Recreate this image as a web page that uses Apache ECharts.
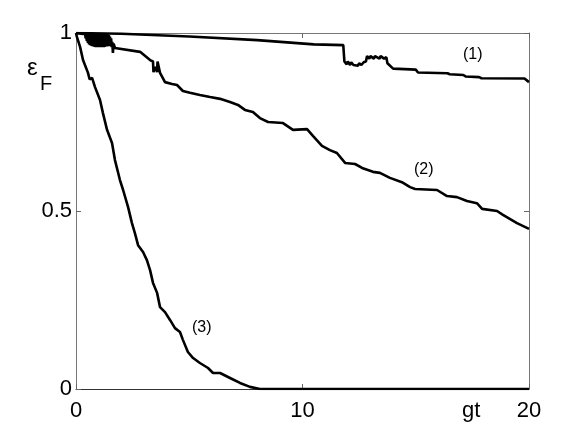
<!DOCTYPE html>
<html><head><meta charset="utf-8">
<script src="https://cdn.jsdelivr.net/npm/echarts@6/dist/echarts.min.js"></script>
<style>html,body{margin:0;padding:0;background:#fff}#c{width:584px;height:439px}</style>
</head><body><div id="c"></div>
<script>
// x ticks and y ticks
var xTicks = [0, 10, 20];
var yTicks = [0, 0.5, 1];
var curveLabels = ['(1)', '(2)', '(3)'];

// Curve (1)
var t1 = [0, 2, 5, 8, 10.5, 11.8, 11.85, 11.95, 12.0, 12.1, 12.15, 12.25, 12.3, 12.45, 12.5, 12.6, 12.7, 12.8, 12.85, 12.95, 13.0, 13.15, 13.2, 13.4, 13.45, 13.6, 13.7, 13.75, 14.0, 15.0, 15.1, 16.4, 16.5, 17.1, 17.2, 17.8, 17.9, 19.8, 20];
var v1 = [1.0, 0.998, 0.99, 0.98, 0.968, 0.966, 0.92, 0.912, 0.92, 0.91, 0.918, 0.91, 0.915, 0.908, 0.915, 0.91, 0.918, 0.92, 0.935, 0.928, 0.935, 0.928, 0.935, 0.928, 0.935, 0.928, 0.932, 0.915, 0.9, 0.897, 0.889, 0.887, 0.884, 0.882, 0.878, 0.876, 0.873, 0.872, 0.862];

// Curve (2)
var t2 = [0, 0.3, 0.4, 0.425, 0.45, 0.475, 0.5, 0.525, 0.55, 0.575, 0.6, 0.625, 0.65, 0.675, 0.7, 0.725, 0.75, 0.775, 0.8, 0.825, 0.85, 0.875, 0.9, 0.925, 0.95, 0.975, 1.0, 1.025, 1.05, 1.075, 1.1, 1.125, 1.15, 1.175, 1.2, 1.225, 1.25, 1.275, 1.3, 1.325, 1.35, 1.375, 1.4, 1.425, 1.45, 1.475, 1.5, 1.525, 1.55, 1.575, 1.6, 1.63, 1.66, 1.72, 2.83, 3.27, 3.4, 3.42, 3.5, 3.58, 3.6, 3.71, 3.93, 4.24, 4.46, 4.72, 5.03, 5.47, 5.92, 6.36, 6.8, 7.15, 7.46, 7.81, 8.12, 8.48, 9.14, 9.58, 10.2, 10.46, 10.86, 11.21, 11.52, 11.88, 12.32, 12.63, 13.11, 13.42, 13.86, 14.39, 14.75, 14.97, 15.94, 16.38, 16.82, 17.26, 17.7, 17.93, 18.59, 18.85, 19.47, 20];
var v2 = [1.0, 0.997, 1.0, 0.985, 1.0, 0.978, 1.0, 0.972, 1.0, 0.968, 1.0, 0.966, 1.0, 0.964, 1.0, 0.963, 1.0, 0.962, 1.0, 0.961, 1.0, 0.96, 1.0, 0.96, 1.0, 0.96, 1.0, 0.96, 1.0, 0.96, 1.0, 0.96, 1.0, 0.96, 1.0, 0.96, 1.0, 0.961, 1.0, 0.962, 0.998, 0.962, 0.996, 0.963, 0.994, 0.964, 0.99, 0.963, 0.985, 0.96, 0.975, 0.944, 0.97, 0.958, 0.947, 0.924, 0.92, 0.89, 0.905, 0.89, 0.92, 0.888, 0.862, 0.857, 0.854, 0.837, 0.832, 0.826, 0.82, 0.815, 0.806, 0.798, 0.784, 0.778, 0.761, 0.75, 0.747, 0.728, 0.73, 0.711, 0.683, 0.671, 0.663, 0.635, 0.632, 0.621, 0.61, 0.607, 0.593, 0.581, 0.567, 0.562, 0.559, 0.542, 0.539, 0.528, 0.522, 0.506, 0.5, 0.489, 0.466, 0.45];

// Curve (3)
var t3 = [0, 0.04, 0.18, 0.31, 0.53, 0.6, 0.71, 0.84, 1.06, 1.19, 1.37, 1.59, 1.72, 1.94, 2.08, 2.3, 2.47, 2.6, 2.74, 2.96, 3.13, 3.27, 3.4, 3.58, 3.71, 3.93, 4.15, 4.37, 4.59, 4.72, 4.94, 5.17, 5.47, 5.83, 6.05, 6.36, 6.8, 7.24, 7.68, 8.12, 20];
var v3 = [1.0, 0.989, 0.961, 0.924, 0.888, 0.87, 0.874, 0.848, 0.812, 0.775, 0.728, 0.691, 0.643, 0.587, 0.559, 0.511, 0.466, 0.438, 0.404, 0.385, 0.362, 0.334, 0.298, 0.27, 0.23, 0.216, 0.194, 0.171, 0.16, 0.138, 0.104, 0.087, 0.073, 0.059, 0.045, 0.045, 0.031, 0.017, 0.006, 0, 0];

function pairs(t, v) { return t.map(function (x, i) { return [x, v[i]]; }); }

var chart = echarts.init(document.getElementById('c'), null, { renderer: 'canvas' });
var font = 'Liberation Sans, Arial, sans-serif';
function lineSeries(t, v) {
  return { type: 'line', data: pairs(t, v), showSymbol: false, symbol: 'none', animation: false,
    lineStyle: { color: '#000', width: 2.6 }, xAxisIndex: 0, yAxisIndex: 0 };
}
chart.setOption({
  animation: false,
  grid: { left: 76, right: 55, top: 33, bottom: 50, containLabel: false },
  xAxis: [
    { type: 'value', min: xTicks[0], max: xTicks[2], interval: 10, position: 'bottom',
      axisLine: { show: true, onZero: false, lineStyle: { color: '#333', width: 1.2 } },
      axisTick: { show: true, inside: true, length: 5, lineStyle: { color: '#666' } },
      axisLabel: { fontFamily: font, fontSize: 22, color: '#000', margin: 11 },
      splitLine: { show: false } },
    { type: 'value', min: 0, max: 20, interval: 10, position: 'top',
      axisLine: { show: true, onZero: false, lineStyle: { color: '#777', width: 1 } },
      axisTick: { show: true, inside: true, length: 5, lineStyle: { color: '#666' } },
      axisLabel: { show: false }, splitLine: { show: false } }
  ],
  yAxis: [
    { type: 'value', min: yTicks[0], max: yTicks[2], interval: 0.5, position: 'left',
      axisLine: { show: true, onZero: false, lineStyle: { color: '#777', width: 1 } },
      axisTick: { show: true, inside: true, length: 5, lineStyle: { color: '#666' } },
      axisLabel: { fontFamily: font, fontSize: 22, color: '#000', margin: 4 },
      splitLine: { show: false } },
    { type: 'value', min: 0, max: 1, interval: 0.5, position: 'right',
      axisLine: { show: true, onZero: false, lineStyle: { color: '#777', width: 1 } },
      axisTick: { show: true, inside: true, length: 5, lineStyle: { color: '#666' } },
      axisLabel: { show: false }, splitLine: { show: false } }
  ],
  series: [lineSeries(t1, v1), lineSeries(t2, v2), lineSeries(t3, v3)],
  graphic: [
    { type: 'text', left: 27, top: 56, style: { text: 'ε', font: '24px ' + font, fill: '#000' } },
    { type: 'text', left: 40, top: 74, style: { text: 'F', font: '20px ' + font, fill: '#000' } },
    { type: 'text', left: 462, top: 400, style: { text: 'gt', font: '22px ' + font, fill: '#000' } },
    { type: 'text', left: 463, top: 47, style: { text: curveLabels[0], font: '16px ' + font, fill: '#000' } },
    { type: 'text', left: 414, top: 162, style: { text: curveLabels[1], font: '16px ' + font, fill: '#000' } },
    { type: 'text', left: 192, top: 320, style: { text: curveLabels[2], font: '16px ' + font, fill: '#000' } }
  ]
});
</script></body></html>
